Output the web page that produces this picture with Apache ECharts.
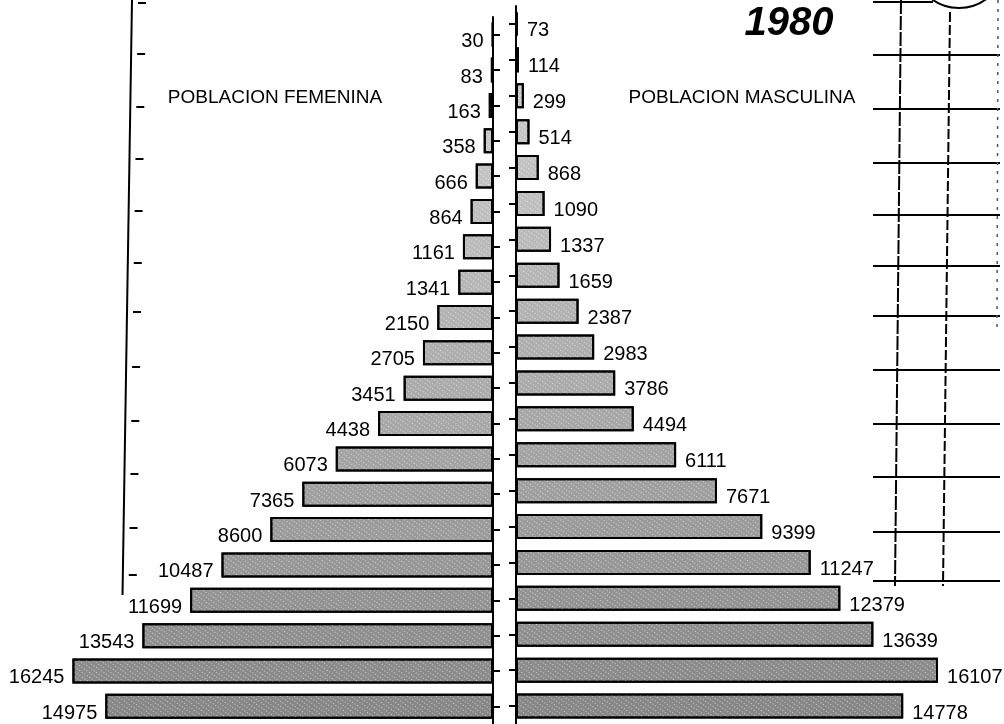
<!DOCTYPE html>
<html>
<head>
<meta charset="utf-8">
<style>html,body{margin:0;padding:0;background:#fff;}#c{width:1004px;height:724px;}</style>
<script src="https://cdn.jsdelivr.net/npm/echarts@6/dist/echarts.min.js"></script>
</head>
<body>
<div id="c"></div>
<script>
// Age groups, bottom (youngest) to top (oldest)
var categories = ['0-4','5-9','10-14','15-19','20-24','25-29','30-34','35-39','40-44','45-49',
                  '50-54','55-59','60-64','65-69','70-74','75-79','80-84','85-89','90-94','95+'];
var female = [14975,16245,13543,11699,10487,8600,7365,6073,4438,3451,
              2705,2150,1341,1161,864,666,358,163,83,30];
var male   = [14778,16107,13639,12379,11247,9399,7671,6111,4494,3786,
              2983,2387,1659,1337,1090,868,514,299,114,73];
var titleText = '1980';
var femaleTitle = 'POBLACION FEMENINA';
var maleTitle = 'POBLACION MASCULINA';

var FONT = '"Liberation Sans", Arial, sans-serif';
function barColor(p){
  var t = p.dataIndex / (categories.length - 1);
  var g = Math.round(135 + t * 75);
  return 'rgb(' + g + ',' + g + ',' + g + ')';
}
var decal = {symbol:'rect', symbolSize:1, dashArrayX:[1,2], dashArrayY:[1,3], rotation:0.6, color:'rgba(255,255,255,0.6)'};

// decorative scan remnants
var deco = [];
function L(x1,y1,x2,y2,w,dash,col){
  deco.push({type:'line', silent:true, shape:{x1:x1,y1:y1,x2:x2,y2:y2},
    style:{stroke:col||'#000', lineWidth:w||2, lineDash:dash||null}});
}
L(132,0,122.5,595,2);
[3,54,107,159,211,263,312,367,421,474,528,575].forEach(function(y){
  var x = 132 - y*0.016; L(x+6,y,x+14,y,2);
});
L(873,2,933,2,2);
[55,109,163,215,266,316,370,424,477,532,581].forEach(function(y){ L(873,y,1000,y,2); });
L(901,0,895,586,2,[14,2]);
L(950,12,943,586,2,[10,3]);
L(998,0,997,330,1.5,[3,6],'#555');
deco.push({type:'circle', silent:true, shape:{cx:959,cy:-38,r:46}, style:{fill:null, stroke:'#000', lineWidth:2}});
deco.push({type:'text', silent:true, x:789, y:24, style:{text:titleText, font:'italic bold 40px '+FONT, fill:'#000', align:'center', verticalAlign:'middle'}});
deco.push({type:'text', silent:true, x:275, y:98, style:{text:femaleTitle, font:'19px '+FONT, fill:'#000', align:'center', verticalAlign:'middle'}});
deco.push({type:'text', silent:true, x:742, y:98, style:{text:maleTitle, font:'19px '+FONT, fill:'#000', align:'center', verticalAlign:'middle'}});

var chart = echarts.init(document.getElementById('c'), null, {renderer:'canvas'});
chart.setOption({
  animation:false,
  backgroundColor:'#fff',
  grid:[
    {left:27, width:466, top:17, height:708},
    {left:516, width:471.6, top:6, height:720}
  ],
  xAxis:[
    {gridIndex:0, type:'value', min:0, max:18000, inverse:true, show:false},
    {gridIndex:1, type:'value', min:0, max:18000, show:false}
  ],
  yAxis:[
    {gridIndex:0, type:'category', data:categories, position:'right',
     axisLine:{show:true, lineStyle:{color:'#000', width:2}},
     axisTick:{show:true, alignWithLabel:true, length:7, lineStyle:{color:'#000', width:2}},
     axisLabel:{show:false}, splitLine:{show:false}},
    {gridIndex:1, type:'category', data:categories, position:'left',
     axisLine:{show:true, lineStyle:{color:'#000', width:2}},
     axisTick:{show:true, alignWithLabel:true, length:7, lineStyle:{color:'#000', width:2}},
     axisLabel:{show:false}, splitLine:{show:false}}
  ],
  series:[
    {type:'bar', name:'Femenina', xAxisIndex:0, yAxisIndex:0, data:female, barWidth:25,
     itemStyle:{color:barColor, borderColor:'#000', borderWidth:2, decal:decal},
     label:{show:true, position:'left', distance:8, offset:[0,7], color:'#000', fontSize:20, fontFamily:FONT}},
    {type:'bar', name:'Masculina', xAxisIndex:1, yAxisIndex:1, data:male, barWidth:25,
     itemStyle:{color:barColor, borderColor:'#000', borderWidth:2, decal:decal},
     label:{show:true, position:'right', distance:9, offset:[0,7], color:'#000', fontSize:20, fontFamily:FONT}}
  ],
  graphic:deco
});
</script>
</body>
</html>
